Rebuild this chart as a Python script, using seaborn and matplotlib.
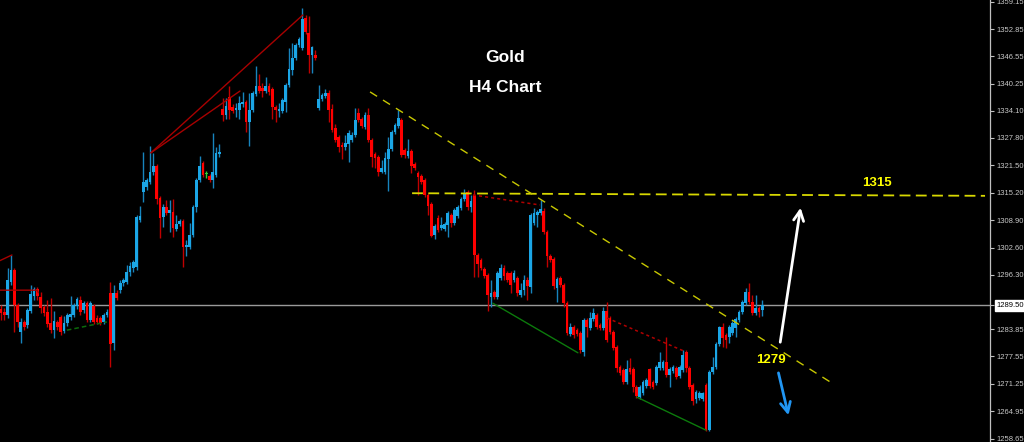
"""
plot.py
Gold H4 candlestick chart (MetaTrader style) recreated with seaborn/matplotlib.
"""

import numpy as np
import pandas as pd
import matplotlib
matplotlib.use('Agg')
import matplotlib.pyplot as plt
import seaborn as sns


# ══════════════════════════════════════════════════════
#  CANDLE DATA (H4 bars, price in USD)
# ══════════════════════════════════════════════════════
opens = [
    1288.5, 1287.8, 1287.1, 1294.7, 1297.4, 1289.4, 1283.2, 1285.5, 1284.8, 1288.0,
    1291.5, 1293.1, 1291.2, 1288.9, 1287.8, 1285.3, 1283.6, 1285.5, 1286.6, 1283.4,
    1285.3, 1286.6, 1287.1, 1289.2, 1290.5, 1288.2, 1289.9, 1285.9, 1289.2, 1286.4,
    1286.4, 1285.5, 1287.1, 1292.2, 1280.7, 1292.2, 1292.8, 1294.5, 1294.7, 1297.0,
    1297.9, 1298.1, 1308.9, 1315.4, 1316.5, 1317.7, 1320.0, 1321.4, 1314.0, 1309.6,
    1311.9, 1310.5, 1310.8, 1306.9, 1308.0, 1308.7, 1302.7, 1302.7, 1305.5, 1311.9,
    1318.1, 1322.0, 1319.5, 1319.1, 1318.1, 1319.3, 1324.1, 1334.5, 1333.1, 1337.2,
    1334.9, 1334.2, 1334.2, 1335.6, 1336.1, 1331.5, 1334.2, 1337.9, 1339.8, 1339.3,
    1338.6, 1339.8, 1339.1, 1334.9, 1334.0, 1334.0, 1336.1, 1340.0, 1343.4, 1346.2,
    1349.2, 1348.5, 1355.4, 1351.9, 1346.9, 1346.9, 1334.7, 1336.8, 1337.5, 1338.1,
    1334.5, 1330.1, 1328.0, 1326.2, 1325.7, 1326.4, 1327.3, 1328.5, 1333.5, 1332.2,
    1330.3, 1333.1, 1327.3, 1324.1, 1323.4, 1320.0, 1320.0, 1323.0, 1325.3, 1329.2,
    1330.6, 1331.9, 1325.0, 1323.7, 1324.8, 1321.8, 1319.7, 1319.1, 1318.1, 1314.7,
    1312.6, 1305.5, 1309.4, 1307.1, 1306.9, 1307.8, 1310.1, 1308.2, 1309.9, 1311.7,
    1313.8, 1315.4, 1311.9, 1314.7, 1300.9, 1299.7, 1297.7, 1296.3, 1291.2, 1292.4,
    1291.2, 1295.6, 1297.9, 1296.7, 1296.7, 1295.1, 1295.6, 1291.7, 1292.8, 1295.1,
    1293.5, 1308.2, 1310.1, 1310.5, 1311.0, 1306.2, 1300.7, 1300.0, 1293.3, 1295.6,
    1294.0, 1289.9, 1282.7, 1284.3, 1283.6, 1283.0, 1278.6, 1285.9, 1284.1, 1286.2,
    1287.1, 1284.8, 1284.1, 1288.0, 1286.4, 1283.2, 1279.7, 1275.1, 1274.4, 1271.7,
    1274.9, 1274.7, 1270.5, 1268.2, 1269.1, 1270.8, 1274.7, 1271.7, 1271.4, 1274.9,
    1274.9, 1276.3, 1273.3, 1274.2, 1274.9, 1273.1, 1274.4, 1278.6, 1274.9, 1271.0,
    1267.8, 1268.0, 1267.8, 1271.0, 1260.6, 1274.0, 1275.1, 1280.4, 1284.3, 1282.5,
    1282.0, 1283.0, 1284.1, 1285.9, 1287.8, 1289.9, 1292.4, 1290.1, 1287.6, 1288.7,
    1288.2,
]
highs = [
    1289.4, 1288.7, 1297.9, 1300.9, 1297.9, 1289.9, 1286.4, 1285.9, 1288.7, 1294.0,
    1293.5, 1293.5, 1292.4, 1289.4, 1290.5, 1291.0, 1288.0, 1285.9, 1287.1, 1286.9,
    1287.6, 1291.5, 1289.9, 1291.2, 1291.5, 1290.3, 1290.3, 1290.3, 1289.6, 1287.1,
    1286.9, 1287.6, 1288.5, 1294.7, 1294.0, 1292.8, 1295.1, 1295.6, 1298.6, 1299.3,
    1299.7, 1310.1, 1312.2, 1324.6, 1318.6, 1326.0, 1324.3, 1321.8, 1314.5, 1312.6,
    1313.5, 1313.5, 1313.8, 1310.1, 1309.2, 1309.2, 1304.3, 1308.2, 1312.4, 1318.6,
    1323.7, 1322.5, 1320.2, 1319.5, 1329.0, 1325.7, 1326.4, 1337.0, 1337.0, 1339.8,
    1335.6, 1335.8, 1337.5, 1338.4, 1336.5, 1338.1, 1338.6, 1344.4, 1342.5, 1340.4,
    1341.8, 1340.4, 1339.5, 1335.4, 1335.8, 1337.0, 1340.4, 1348.5, 1349.6, 1349.6,
    1351.0, 1357.7, 1356.1, 1355.9, 1349.0, 1348.0, 1340.0, 1338.1, 1339.1, 1338.8,
    1335.6, 1331.0, 1328.5, 1326.9, 1328.5, 1329.6, 1329.2, 1334.7, 1334.7, 1332.6,
    1333.8, 1334.7, 1327.8, 1324.6, 1323.9, 1322.7, 1324.6, 1328.0, 1329.6, 1331.2,
    1334.2, 1332.4, 1325.5, 1327.6, 1325.3, 1322.3, 1320.2, 1319.5, 1318.6, 1315.1,
    1313.1, 1308.0, 1310.1, 1309.6, 1308.5, 1311.0, 1310.5, 1311.7, 1312.4, 1314.2,
    1316.1, 1315.8, 1314.7, 1315.8, 1301.3, 1300.2, 1298.1, 1296.7, 1295.1, 1292.8,
    1297.2, 1298.8, 1298.6, 1297.2, 1297.2, 1297.4, 1296.1, 1294.5, 1296.3, 1295.8,
    1310.5, 1311.7, 1311.2, 1313.5, 1311.7, 1306.6, 1301.1, 1300.4, 1295.8, 1296.1,
    1294.5, 1290.3, 1285.3, 1284.8, 1284.1, 1283.4, 1286.4, 1286.4, 1287.8, 1288.7,
    1287.6, 1285.3, 1288.9, 1290.1, 1286.9, 1283.6, 1280.2, 1275.6, 1274.9, 1276.7,
    1277.2, 1275.1, 1271.0, 1271.0, 1272.1, 1272.6, 1274.9, 1272.1, 1275.6, 1278.6,
    1276.7, 1282.0, 1275.1, 1275.6, 1275.4, 1275.6, 1279.0, 1279.0, 1275.4, 1271.4,
    1269.8, 1269.6, 1269.4, 1271.4, 1274.4, 1277.4, 1280.9, 1284.6, 1285.3, 1283.0,
    1284.8, 1285.7, 1286.6, 1288.2, 1290.5, 1293.3, 1294.5, 1291.7, 1291.7, 1289.2,
    1290.5,
]
lows = [
    1285.9, 1285.9, 1286.4, 1294.0, 1283.2, 1284.3, 1280.7, 1283.6, 1284.1, 1287.6,
    1290.5, 1290.5, 1287.6, 1286.9, 1284.3, 1283.0, 1281.8, 1283.6, 1282.5, 1283.0,
    1284.6, 1285.9, 1286.6, 1288.5, 1287.1, 1287.6, 1285.5, 1285.5, 1285.0, 1285.0,
    1284.8, 1285.0, 1286.6, 1275.1, 1279.0, 1290.5, 1292.2, 1293.8, 1294.2, 1296.1,
    1297.0, 1297.4, 1308.5, 1313.1, 1315.8, 1317.2, 1319.3, 1312.6, 1304.8, 1307.3,
    1310.1, 1306.2, 1305.0, 1306.4, 1307.6, 1298.1, 1300.7, 1302.3, 1305.0, 1310.8,
    1317.7, 1318.8, 1318.6, 1317.7, 1316.3, 1318.8, 1323.4, 1331.7, 1332.2, 1332.2,
    1333.5, 1332.6, 1332.2, 1334.9, 1329.2, 1326.0, 1333.8, 1337.5, 1338.1, 1337.2,
    1338.1, 1337.7, 1332.2, 1331.5, 1332.6, 1333.5, 1333.8, 1339.5, 1342.3, 1345.7,
    1348.7, 1348.0, 1351.7, 1342.7, 1342.7, 1345.7, 1334.2, 1336.3, 1337.0, 1331.5,
    1329.2, 1326.9, 1324.6, 1323.0, 1325.0, 1322.3, 1326.9, 1328.0, 1331.5, 1330.1,
    1329.9, 1326.9, 1321.1, 1320.9, 1319.1, 1319.7, 1319.5, 1315.6, 1324.8, 1328.7,
    1330.1, 1323.4, 1323.2, 1323.2, 1319.7, 1320.4, 1314.7, 1317.2, 1314.2, 1310.1,
    1305.0, 1304.6, 1306.2, 1306.6, 1306.4, 1305.0, 1307.3, 1307.8, 1309.4, 1311.2,
    1313.3, 1311.2, 1310.8, 1295.8, 1295.8, 1297.4, 1295.6, 1288.0, 1288.9, 1290.8,
    1290.8, 1295.1, 1295.1, 1294.7, 1292.2, 1294.7, 1291.5, 1291.2, 1291.7, 1290.5,
    1292.2, 1307.8, 1307.3, 1310.1, 1305.7, 1298.1, 1299.3, 1293.1, 1290.1, 1293.5,
    1288.9, 1282.5, 1282.3, 1281.8, 1282.3, 1278.4, 1277.7, 1282.0, 1283.6, 1285.7,
    1283.9, 1283.6, 1283.6, 1280.9, 1282.7, 1279.0, 1274.0, 1273.3, 1271.2, 1271.2,
    1273.5, 1269.4, 1268.0, 1267.8, 1268.7, 1270.3, 1270.3, 1270.1, 1271.0, 1274.4,
    1274.4, 1272.8, 1270.5, 1273.7, 1272.4, 1272.6, 1274.0, 1274.0, 1270.1, 1266.4,
    1266.8, 1267.5, 1267.3, 1260.4, 1260.4, 1273.5, 1274.7, 1280.0, 1279.7, 1279.5,
    1280.7, 1282.5, 1282.0, 1285.5, 1287.3, 1289.4, 1289.6, 1287.1, 1287.1, 1286.6,
    1286.9,
]
closes = [
    1287.6, 1287.1, 1295.1, 1297.4, 1289.4, 1285.5, 1285.5, 1284.3, 1288.2, 1291.9,
    1293.1, 1291.5, 1288.7, 1287.6, 1285.0, 1283.6, 1285.7, 1284.3, 1283.2, 1285.3,
    1287.1, 1287.3, 1289.4, 1290.8, 1287.8, 1289.9, 1285.9, 1289.9, 1285.5, 1285.5,
    1285.3, 1287.1, 1287.8, 1280.4, 1292.2, 1291.0, 1294.5, 1295.1, 1297.0, 1298.4,
    1299.3, 1309.6, 1309.9, 1317.7, 1318.1, 1320.0, 1321.4, 1313.8, 1309.4, 1311.9,
    1310.5, 1311.2, 1307.1, 1308.0, 1308.7, 1302.7, 1303.2, 1305.5, 1311.9, 1318.1,
    1321.4, 1319.3, 1319.5, 1318.1, 1320.0, 1324.3, 1324.6, 1333.1, 1335.2, 1334.2,
    1334.0, 1334.7, 1335.8, 1336.1, 1331.5, 1334.2, 1338.1, 1339.8, 1338.6, 1338.6,
    1339.8, 1338.4, 1334.9, 1334.2, 1334.5, 1336.5, 1340.0, 1343.7, 1346.2, 1349.2,
    1350.6, 1355.2, 1352.2, 1346.9, 1348.7, 1346.2, 1336.8, 1337.7, 1338.1, 1334.2,
    1329.6, 1327.3, 1325.7, 1325.7, 1326.6, 1329.0, 1328.5, 1331.9, 1331.9, 1330.6,
    1333.1, 1327.3, 1323.4, 1323.2, 1320.0, 1320.9, 1323.2, 1325.3, 1329.2, 1330.8,
    1332.4, 1323.9, 1323.9, 1324.8, 1321.4, 1320.9, 1318.8, 1317.7, 1314.7, 1312.2,
    1305.3, 1307.6, 1306.6, 1307.8, 1308.0, 1310.5, 1308.2, 1311.2, 1311.9, 1313.8,
    1315.1, 1311.9, 1313.3, 1300.9, 1298.8, 1297.9, 1296.1, 1291.7, 1292.2, 1291.2,
    1296.7, 1297.9, 1296.1, 1295.1, 1294.0, 1296.7, 1292.2, 1292.8, 1295.1, 1293.8,
    1310.1, 1310.5, 1310.8, 1311.5, 1306.2, 1300.7, 1299.7, 1293.8, 1295.4, 1294.0,
    1289.9, 1283.0, 1284.3, 1282.5, 1282.7, 1279.0, 1285.9, 1284.3, 1286.4, 1287.6,
    1284.3, 1284.1, 1288.0, 1281.3, 1283.2, 1279.5, 1274.9, 1273.7, 1271.7, 1274.7,
    1274.0, 1270.5, 1268.5, 1270.5, 1271.7, 1272.1, 1270.8, 1270.5, 1275.1, 1276.3,
    1276.3, 1273.3, 1274.7, 1275.1, 1272.8, 1275.1, 1277.9, 1274.9, 1270.5, 1267.3,
    1269.4, 1269.1, 1269.1, 1260.6, 1274.0, 1275.1, 1280.4, 1284.3, 1281.8, 1281.3,
    1284.3, 1285.3, 1286.2, 1287.8, 1290.1, 1292.4, 1290.1, 1287.6, 1288.7, 1287.8,
    1289.4,
]

# price scale ticks shown on the right
price_ticks = [1359.15, 1352.85, 1346.55, 1340.25, 1334.10, 1327.80, 1321.50,
               1315.20, 1308.90, 1302.60, 1296.30, 1289.50, 1283.85, 1277.55,
               1271.25, 1264.95, 1258.65]
bid_price = 1289.50

# drawn analysis objects: (bar index, price) pairs
red_trend_lines = [
    [(45.3, 1324.4), (91.2, 1356.1)],
    [(45.3, 1324.4), (72.2, 1338.6)],
    [(-0.3, 1292.8), (10.9, 1292.8), (11.3, 1292.2)],
    [(-0.3, 1299.6), (3.3, 1300.9)],
]
red_dotted_lines = [
    [(142.6, 1314.7), (162.8, 1312.4)],
    [(183.1, 1286.4), (206.3, 1278.8)],
]
green_lines = [
    [(148.6, 1289.8), (174.3, 1278.4)],
    [(192.1, 1268.2), (213.0, 1260.6)],
]
green_dashed_line = [(19.9, 1283.6), (32.0, 1285.5)]
resistance_line = [(124.2, 1315.1), (297.3, 1314.5)]
downtrend_line = [(111.5, 1338.4), (250.5, 1271.7)]
up_arrow = [(235.3, 1280.2), (241.7, 1312.4)]
down_arrow = [(234.7, 1274.4), (238.1, 1263.4)]
level_labels = ['1315', '1279']
level_label_pos = [(264.6, 1317.4), (232.6, 1276.7)]


# ══════════════════════════════════════════════════════
#  STYLE
# ══════════════════════════════════════════════════════
sns.set_theme(style='dark', rc={
    'axes.facecolor': 'black',
    'figure.facecolor': 'black',
    'axes.edgecolor': '#c0c0c0',
    'axes.grid': False,
})
plt.rcParams['font.family'] = ['Liberation Sans', 'DejaVu Sans']

UP_BODY, UP_WICK = '#1ba6e6', '#1784bd'
DN_BODY, DN_WICK = '#ff0000', '#c00000'
DOJI = '#30d030'

df = pd.DataFrame({'open': opens, 'high': highs, 'low': lows, 'close': closes})
df['idx'] = np.arange(len(df))
df['bottom'] = df[['open', 'close']].min(axis=1)
df['body'] = (df['close'] - df['open']).abs().clip(lower=0.3)
df['kind'] = np.where(df['close'] > df['open'], 'up',
                      np.where(df['close'] < df['open'], 'down', 'doji'))

body_colors = {'up': UP_BODY, 'down': DN_BODY, 'doji': DOJI}
wick_colors = {'up': UP_WICK, 'down': DN_WICK, 'doji': DOJI}

fig = plt.figure(figsize=(10.24, 4.42), dpi=100)
ax = fig.add_axes([0, 0, 990 / 1024, 1])

# bid line
ax.axhline(bid_price, color='#9a9a9a', lw=1.0, zorder=1)

# wicks + bodies
ax.vlines(df['idx'], df['low'], df['high'],
          colors=df['kind'].map(wick_colors), lw=1.0, zorder=2)
ax.bar(df['idx'], df['body'], bottom=df['bottom'], width=0.82,
       color=df['kind'].map(body_colors), linewidth=0, zorder=3)


def seg(points, **kw):
    xs = [p[0] for p in points]
    ys = [p[1] for p in points]
    sns.lineplot(x=xs, y=ys, ax=ax, sort=False, estimator=None, **kw)


for pts in red_trend_lines:
    seg(pts, color='#a80000', lw=1.0, zorder=4)
for pts in red_dotted_lines:
    seg(pts, color='#b00000', lw=1.1, linestyle=(0, (2, 2)), zorder=4)
for pts in green_lines:
    seg(pts, color='#0c7a0c', lw=1.0, zorder=4)
seg(green_dashed_line, color='#0c6a0c', lw=1.1, linestyle=(0, (3, 2)), zorder=4)
seg(resistance_line, color='#d8d800', lw=1.3, linestyle=(0, (6, 3)), zorder=4)
seg(downtrend_line, color='#c8c800', lw=1.0, linestyle=(0, (6, 5)), zorder=4)

# forecast arrows
ax.annotate('', xy=up_arrow[1], xytext=up_arrow[0],
            arrowprops=dict(arrowstyle='->,head_length=0.6,head_width=0.3',
                            color='white', lw=2.0), zorder=6)
ax.annotate('', xy=down_arrow[1], xytext=down_arrow[0],
            arrowprops=dict(arrowstyle='->,head_length=0.6,head_width=0.3',
                            color='#2196f3', lw=2.0), zorder=6)

# titles and level labels
ax.text(152.3, 1346.2, 'Gold', ha='center', va='center', color='white',
        fontsize=12.5, fontweight='bold', zorder=7)
ax.text(152.3, 1339.5, 'H4 Chart', ha='center', va='center', color='white',
        fontsize=12.5, fontweight='bold', zorder=7)
for txt, (lx, ly) in zip(level_labels, level_label_pos):
    ax.text(lx, ly, txt, ha='center', va='center', color='#ffff00',
            fontsize=9.5, fontweight='bold', zorder=7)

# axes / price scale
ax.set_xlim(-0.3, 298.8)
ax.set_ylim(1257.88, 1359.54)
ax.set_xticks([])
ax.yaxis.tick_right()
ax.set_yticks(price_ticks)
ax.set_yticklabels([f'{p:.2f}' for p in price_ticks])
ax.tick_params(axis='y', direction='out', length=3, width=0.8,
               color='#c0c0c0', labelsize=5.5, labelcolor='#c8c8c8', pad=1.5)
for name in ['top', 'left', 'bottom']:
    ax.spines[name].set_visible(False)
ax.spines['right'].set_color('#c0c0c0')
ax.spines['right'].set_linewidth(0.9)

for lab, p in zip(ax.get_yticklabels(), price_ticks):
    if abs(p - bid_price) < 1e-6:
        lab.set_color('black')
        lab.set_bbox(dict(facecolor='white', edgecolor='white', pad=1.2))

fig.savefig('out.png', dpi=100, facecolor='black')
plt.close(fig)
